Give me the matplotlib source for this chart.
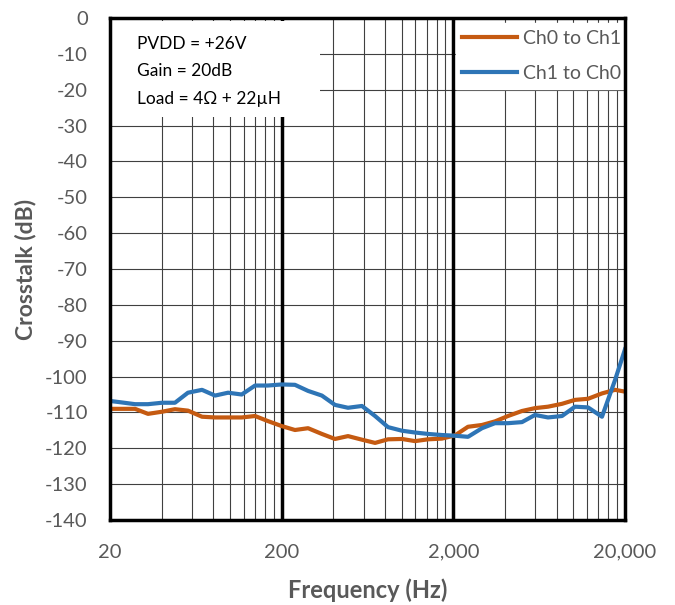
import matplotlib
matplotlib.use("Agg")
import matplotlib.pyplot as plt
from matplotlib.patches import Rectangle
from matplotlib.ticker import FixedLocator, NullFormatter

plt.rcParams['font.family'] = ['Lato', 'DejaVu Sans']

freq = [20, 23.3, 28, 33.3, 40.2, 47.8, 56.9, 68.7, 81.8, 97.4, 117, 140, 166, 200,
        239, 285, 343, 409, 487, 587, 700, 833, 1004, 1196, 1424, 1717, 2045, 2435,
        2937, 3496, 4163, 5022, 5980, 7119, 8589, 10227, 12176, 14689, 17490, 20000]

ch0_to_ch1 = [-109.0, -109.0, -109.0, -110.4, -109.8, -109.1, -109.5, -111.2, -111.4, -111.4,
              -111.4, -111.0, -112.4, -113.8, -114.9, -114.4, -116.0, -117.4, -116.6, -117.6,
              -118.5, -117.5, -117.4, -118.0, -117.5, -117.3, -116.4, -114.0, -113.5, -112.5,
              -111.0, -109.6, -108.8, -108.4, -107.6, -106.5, -106.2, -104.7, -103.7, -104.2]

ch1_to_ch0 = [-106.8, -107.2, -107.7, -107.7, -107.3, -107.3, -104.5, -103.7, -105.3, -104.5,
              -105.0, -102.5, -102.5, -102.2, -102.3, -104.0, -105.3, -107.9, -108.7, -108.2,
              -111.0, -114.1, -115.1, -115.6, -116.0, -116.3, -116.5, -116.8, -114.4, -113.0,
              -113.0, -112.7, -110.7, -111.4, -111.0, -108.4, -108.6, -111.2, -101.0, -92.4]

x_ticks = [20, 200, 2000, 20000]
x_tick_labels = ['20', '200', '2,000', '20,000']
y_ticks = list(range(0, -141, -10))
series_labels = ['Ch0 to Ch1', 'Ch1 to Ch0']
note_lines = ['PVDD = +26V', 'Gain = 20dB', 'Load = 4Ω + 22µH']

grey = '#595959'
orange = '#C55A11'
blue = '#2E75B6'

fig = plt.figure(figsize=(6.75, 6.05), dpi=100)
ax = fig.add_axes([110/675, 1-520/605, 515/675, 502/605])
ax.set_xscale('log')
ax.set_xlim(20, 20000)
ax.set_ylim(-140, 0)

# grid
minor = [m * d for d in (20, 200, 2000) for m in range(2, 10)]
for f in minor:
    ax.axvline(f, color='#404040', lw=0.8, zorder=1)
for f in (200, 2000):
    ax.axvline(f, color='black', lw=2.5, zorder=1.2)
for y in y_ticks:
    ax.axhline(y, color='#404040', lw=0.8, zorder=1)

ax.plot(freq, ch0_to_ch1, color=orange, lw=3, label=series_labels[0], zorder=3)
ax.plot(freq, ch1_to_ch0, color=blue, lw=3, label=series_labels[1], zorder=3)

ax.xaxis.set_major_locator(FixedLocator(x_ticks))
ax.xaxis.set_minor_locator(FixedLocator([]))
ax.xaxis.set_minor_formatter(NullFormatter())
ax.set_xticklabels(x_tick_labels)
ax.set_yticks(y_ticks)
ax.set_yticklabels([str(v) for v in y_ticks])
ax.tick_params(axis='both', length=0, labelsize=14.5, labelcolor=grey)
ax.tick_params(axis='x', pad=17)
ax.tick_params(axis='y', pad=16)

for s in ax.spines.values():
    s.set_linewidth(2.5)
    s.set_color('black')
    s.set_zorder(6)

ax.set_xlabel('Frequency (Hz)', fontsize=17, fontweight='bold', color=grey, labelpad=13)
ax.set_ylabel('Crosstalk (dB)', fontsize=16.5, fontweight='bold', color=grey, labelpad=6)

# note box
ax.add_patch(Rectangle((0.004, (520-117)/502), (320-112)/515, (117-21)/502,
                       transform=ax.transAxes, facecolor='white', edgecolor='none', zorder=2.5))
for i, t in enumerate(note_lines):
    ax.text((137-110)/515, (520-(44+27.5*i))/502, t, transform=ax.transAxes,
            fontsize=12.5, color='black', va='center', ha='left', zorder=4)

leg = ax.legend(loc='upper right', bbox_to_anchor=(1.005, 0.99), borderaxespad=0,
                fontsize=14, frameon=True, fancybox=False, framealpha=1,
                edgecolor='white', handlelength=2.8, labelspacing=0.95,
                borderpad=0.35, handletextpad=0.3)
for t in leg.get_texts():
    t.set_color(grey)
leg.set_zorder(5)

fig.savefig('out.png', dpi=100)
